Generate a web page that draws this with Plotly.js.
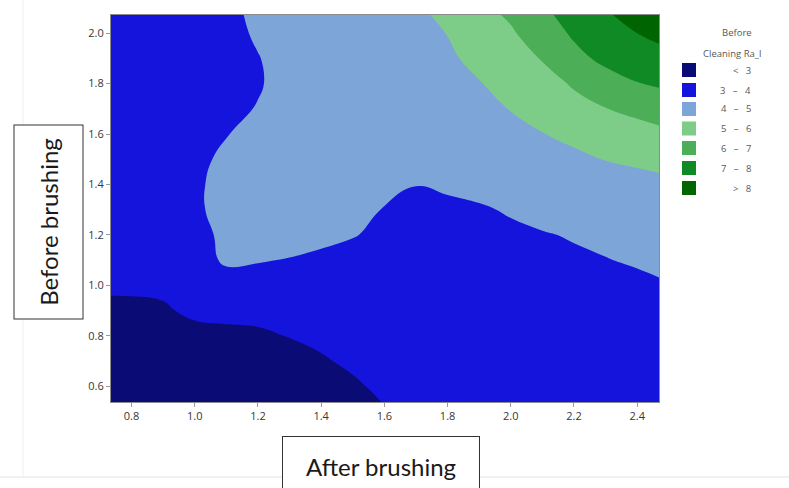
<!DOCTYPE html>
<html>
<head>
<meta charset="utf-8">
<script src="https://cdn.plot.ly/plotly-3.0.1.min.js"></script>
<style>
html,body{margin:0;padding:0;background:#ffffff;}
#chart{width:789px;height:488px;}
</style>
</head>
<body>
<div id="chart"></div>
<script>
// ---- data ----
const afterBrushing = [0.7, 0.8, 0.9, 1.0, 1.1, 1.2, 1.3, 1.4, 1.5, 1.6, 1.7, 1.8, 1.9, 2.0, 2.1, 2.2, 2.3, 2.4, 2.5];
const beforeBrushing = [0.5, 0.6, 0.7, 0.8, 0.9, 1.0, 1.1, 1.2, 1.3, 1.4, 1.5, 1.6, 1.7, 1.8, 1.9, 2.0, 2.1];

// estimated "Before Cleaning Ra" value, one array per After-brushing column (bottom -> top)
const zAfter070 = [2.4, 2.5, 2.6, 2.72, 2.87, 3.1, 3.3, 3.4, 3.45, 3.5, 3.5, 3.5, 3.45, 3.45, 3.4, 3.4, 3.4];
const zAfter080 = [2.4, 2.5, 2.6, 2.72, 2.87, 3.1, 3.3, 3.45, 3.55, 3.55, 3.5, 3.5, 3.45, 3.45, 3.4, 3.4, 3.4];
const zAfter090 = [2.45, 2.55, 2.65, 2.8, 2.94, 3.1, 3.35, 3.55, 3.7, 3.7, 3.6, 3.5, 3.45, 3.4, 3.4, 3.4, 3.4];
const zAfter100 = [2.4, 2.55, 2.7, 2.85, 3.1, 3.3, 3.5, 3.7, 3.85, 3.85, 3.75, 3.6, 3.5, 3.45, 3.45, 3.45, 3.45];
const zAfter110 = [2.45, 2.6, 2.75, 2.9, 3.12, 3.5, 4.17, 4.2, 4.3, 4.3, 4.2, 3.97, 3.8, 3.7, 3.7, 3.75, 3.8];
const zAfter120 = [2.5, 2.65, 2.8, 2.92, 3.15, 3.5, 4.07, 4.2, 4.3, 4.35, 4.3, 4.2, 4.04, 3.93, 3.97, 4.1, 4.2];
const zAfter130 = [2.6, 2.7, 2.8, 3.02, 3.25, 3.55, 3.95, 4.45, 4.5, 4.5, 4.45, 4.4, 4.35, 4.3, 4.3, 4.35, 4.4];
const zAfter140 = [2.7, 2.82, 2.93, 3.15, 3.35, 3.6, 3.8, 4.25, 4.5, 4.55, 4.55, 4.5, 4.5, 4.5, 4.55, 4.6, 4.65];
const zAfter150 = [2.75, 2.9, 3.12, 3.3, 3.45, 3.6, 3.75, 4.04, 4.35, 4.5, 4.55, 4.6, 4.6, 4.65, 4.7, 4.75, 4.8];
const zAfter160 = [2.95, 3.15, 3.3, 3.45, 3.55, 3.65, 3.75, 3.84, 3.96, 4.2, 4.4, 4.5, 4.6, 4.65, 4.7, 4.75, 4.82];
const zAfter170 = [3.2, 3.35, 3.5, 3.6, 3.65, 3.7, 3.75, 3.8, 3.88, 4.01, 4.3, 4.45, 4.55, 4.65, 4.72, 4.8, 4.88];
const zAfter180 = [3.3, 3.45, 3.55, 3.62, 3.68, 3.72, 3.76, 3.8, 3.86, 4.1, 4.35, 4.5, 4.6, 4.7, 4.82, 5.02, 5.35];
const zAfter190 = [3.35, 3.5, 3.58, 3.65, 3.7, 3.75, 3.8, 3.86, 3.93, 4.2, 4.4, 4.55, 4.7, 4.95, 5.3, 5.6, 5.85];
const zAfter200 = [3.4, 3.52, 3.6, 3.68, 3.73, 3.78, 3.83, 3.88, 4.06, 4.3, 4.48, 4.75, 5.03, 5.35, 5.65, 5.9, 6.2];
const zAfter210 = [3.45, 3.55, 3.63, 3.7, 3.76, 3.82, 3.88, 3.95, 4.25, 4.5, 4.72, 4.98, 5.3, 5.65, 6.05, 6.45, 6.85];
const zAfter220 = [3.5, 3.58, 3.65, 3.72, 3.78, 3.83, 3.88, 4.06, 4.3, 4.58, 4.87, 5.15, 5.7, 6.1, 6.7, 7.15, 7.6];
const zAfter230 = [3.55, 3.62, 3.68, 3.75, 3.82, 3.88, 3.97, 4.2, 4.45, 4.7, 5.02, 5.5, 5.98, 6.55, 7.25, 7.7, 8.0];
const zAfter240 = [3.5, 3.56, 3.62, 3.68, 3.74, 3.8, 4.1, 4.3, 4.55, 4.78, 5.12, 5.7, 6.2, 6.97, 7.5, 8.0, 8.45];
const zAfter250 = [3.55, 3.62, 3.7, 3.77, 3.85, 3.95, 4.3, 4.45, 4.65, 4.85, 5.25, 5.85, 6.5, 7.15, 7.8, 8.25, 8.7];

const xTickVals = [0.8, 1.0, 1.2, 1.4, 1.6, 1.8, 2.0, 2.2, 2.4];
const xTickText = ['0.8', '1.0', '1.2', '1.4', '1.6', '1.8', '2.0', '2.2', '2.4'];
const yTickVals = [0.6, 0.8, 1.0, 1.2, 1.4, 1.6, 1.8, 2.0];
const yTickText = ['0.6', '0.8', '1.0', '1.2', '1.4', '1.6', '1.8', '2.0'];

const levelLabels = ['<   3', '3   –   4', '4   –   5', '5   –   6', '6   –   7', '7   –   8', '>   8'];
const levelColors = ['#0b0b76', '#1414dc', '#7da5d8', '#7dcd88', '#4cae56', '#108a24', '#006400'];
const legendTitleLines = ['Before', 'Cleaning Ra_l'];
const xTitle = 'After brushing';
const yTitle = 'Before brushing';

// ---- build the z table (rows = Before brushing, columns = After brushing) ----
const zColumns = [zAfter070, zAfter080, zAfter090, zAfter100, zAfter110, zAfter120, zAfter130,
  zAfter140, zAfter150, zAfter160, zAfter170, zAfter180, zAfter190, zAfter200, zAfter210,
  zAfter220, zAfter230, zAfter240, zAfter250];
const z = beforeBrushing.map((_, j) => zColumns.map(col => col[j]));

const nBands = levelColors.length;
const colorscale = levelColors.map((c, i) => [i / (nBands - 1), c]);

// ---- layout helpers (pixel -> paper) ----
const W = 789, H = 488;
const PL = 111, PR = 659, PT = 15, PB = 402;
const px = v => (v - PL) / (PR - PL);
const py = v => (PB - v) / (PB - PT);

const shapes = [];
const annotations = [];

// faint screenshot frame lines
shapes.push({type: 'line', xref: 'paper', yref: 'paper', x0: px(0), x1: px(W), y0: py(477), y1: py(477),
  line: {color: '#e2e2e2', width: 1}, layer: 'below'});
shapes.push({type: 'line', xref: 'paper', yref: 'paper', x0: px(23), x1: px(23), y0: py(0), y1: py(477),
  line: {color: '#eeeeee', width: 1}, layer: 'below'});

// legend
const legendFont = {family: 'Open Sans', size: 9.5, color: '#585858'};
const rowY = [70, 90, 109, 128.5, 148, 168, 188];
levelColors.forEach((c, i) => {
  shapes.push({type: 'rect', xref: 'paper', yref: 'paper',
    x0: px(682), x1: px(696), y0: py(rowY[i] + 7), y1: py(rowY[i] - 7),
    fillcolor: c, line: {width: 0}});
  annotations.push({xref: 'paper', yref: 'paper', x: px(753), y: py(rowY[i]), xanchor: 'right', yanchor: 'middle',
    text: levelLabels[i], showarrow: false, font: legendFont});
});
annotations.push({xref: 'paper', yref: 'paper', x: px(737), y: py(33), xanchor: 'center', yanchor: 'middle',
  text: legendTitleLines[0], showarrow: false, font: legendFont});
annotations.push({xref: 'paper', yref: 'paper', x: px(732), y: py(54), xanchor: 'center', yanchor: 'middle',
  text: legendTitleLines[1], showarrow: false, font: legendFont});

// boxed axis titles
annotations.push({xref: 'paper', yref: 'paper', x: px(48), y: py(222.5), xanchor: 'center', yanchor: 'middle',
  text: yTitle, textangle: -90, showarrow: false, width: 193, height: 68,
  bordercolor: '#333333', borderwidth: 1, borderpad: 0, bgcolor: '#ffffff',
  font: {family: 'Lato', size: 24, color: '#1a1a1a'}});
annotations.push({xref: 'paper', yref: 'paper', x: px(381), y: py(466), xanchor: 'center', yanchor: 'middle',
  text: xTitle, showarrow: false, width: 196, height: 58,
  bordercolor: '#333333', borderwidth: 1, borderpad: 0, bgcolor: '#ffffff',
  font: {family: 'Lato', size: 24, color: '#1a1a1a'}});

const trace = {
  type: 'contour',
  x: afterBrushing,
  y: beforeBrushing,
  z: z,
  autocontour: false,
  contours: {start: 3, end: 8, size: 1, coloring: 'fill', showlines: false},
  line: {width: 0, smoothing: 1.3},
  colorscale: colorscale,
  showscale: false,
  hoverinfo: 'skip'
};

const axisCommon = {
  showgrid: false, zeroline: false, showline: true, mirror: true,
  linecolor: '#8c8c8c', linewidth: 1,
  ticks: 'outside', ticklen: 4, tickwidth: 1, tickcolor: '#9a9a9a',
  tickfont: {family: 'Open Sans', size: 11, color: '#363636'}
};

const layout = {
  width: W, height: H,
  margin: {l: PL, r: W - PR, t: PT, b: H - PB, pad: 0},
  paper_bgcolor: '#ffffff', plot_bgcolor: '#ffffff',
  showlegend: false,
  xaxis: Object.assign({}, axisCommon, {range: [0.735, 2.469], tickvals: xTickVals, ticktext: xTickText}),
  yaxis: Object.assign({}, axisCommon, {range: [0.537, 2.072], tickvals: yTickVals, ticktext: yTickText}),
  shapes: shapes,
  annotations: annotations
};

Plotly.newPlot('chart', [trace], layout, {staticPlot: true, displayModeBar: false});
</script>
</body>
</html>
